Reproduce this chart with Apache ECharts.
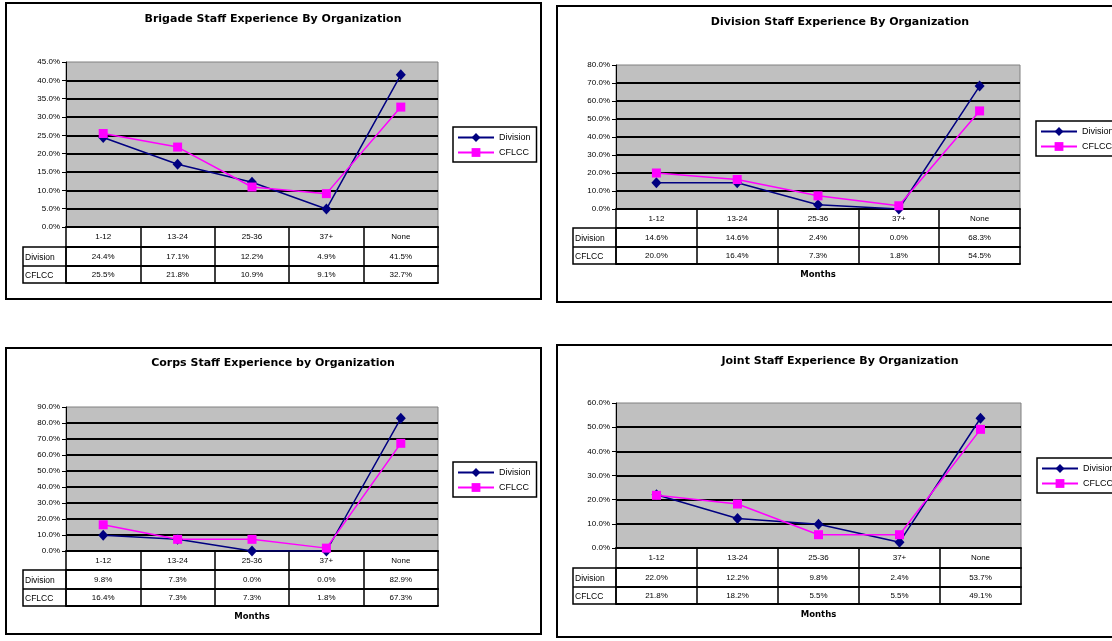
<!DOCTYPE html>
<html>
<head>
<meta charset="utf-8">
<script src="https://cdn.jsdelivr.net/npm/echarts@6/dist/echarts.min.js"></script>
<style>
html, body { margin: 0; padding: 0; background: #fff; }
#main { width: 1112px; height: 641px; }
</style>
</head>
<body>
<div id="main"></div>
<script>
// 数据
var categories = ['1-12', '13-24', '25-36', '37+', 'None'];
var seriesNames = ['Division', 'CFLCC'];
var titles = [
    'Brigade Staff Experience By Organization',
    'Division Staff Experience By Organization',
    'Corps Staff Experience by Organization',
    'Joint Staff Experience By Organization'
];
var brigadeDivision = [24.4, 17.1, 12.2, 4.9, 41.5];
var brigadeCflcc = [25.5, 21.8, 10.9, 9.1, 32.7];
var divisionDivision = [14.6, 14.6, 2.4, 0.0, 68.3];
var divisionCflcc = [20.0, 16.4, 7.3, 1.8, 54.5];
var corpsDivision = [9.8, 7.3, 0.0, 0.0, 82.9];
var corpsCflcc = [16.4, 7.3, 7.3, 1.8, 67.3];
var jointDivision = [22.0, 12.2, 9.8, 2.4, 53.7];
var jointCflcc = [21.8, 18.2, 5.5, 5.5, 49.1];
var axisMax = [45, 80, 90, 60];
var axisStep = [5, 10, 10, 10];
var xAxisName = ['', 'Months', 'Months', 'Months'];

var chartData = [
    [brigadeDivision, brigadeCflcc],
    [divisionDivision, divisionCflcc],
    [corpsDivision, corpsCflcc],
    [jointDivision, jointCflcc]
];

// 布局 (像素)
var layout = [
    { frame: [6, 3, 541, 299], plot: [66, 62, 438, 227], rows: [247, 266, 283], labelLeft: 23, legend: [453, 127], title: [273, 14] },
    { frame: [557, 6, 1125, 302], plot: [616, 65, 1020, 209], rows: [228, 247, 264], labelLeft: 573, legend: [1036, 121], title: [840, 17] },
    { frame: [6, 348, 541, 634], plot: [66, 407, 438, 551], rows: [570, 589, 606], labelLeft: 23, legend: [453, 462], title: [273, 358] },
    { frame: [557, 345, 1125, 637], plot: [616, 403, 1021, 548], rows: [568, 587, 604], labelLeft: 573, legend: [1037, 458], title: [840, 356] }
];

var FONT = 'Liberation Sans, Arial, sans-serif';
var TITLE_FONT = 'DejaVu Sans, Liberation Sans, sans-serif';
var lineColors = ['#000080', '#ff00ff'];

function pct(v) {
    return v.toFixed(1) + '%';
}

var option = {
    animation: false,
    backgroundColor: '#fff',
    textStyle: { fontFamily: FONT },
    title: [],
    legend: [],
    grid: [],
    xAxis: [],
    yAxis: [],
    series: [],
    graphic: []
};

layout.forEach(function (l, i) {
    var x0 = l.plot[0], y0 = l.plot[1], x1 = l.plot[2], y1 = l.plot[3];
    var data = chartData[i];

    option.title.push({
        text: titles[i],
        left: l.title[0],
        top: l.title[1],
        textAlign: 'center',
        padding: 0,
        textStyle: { fontSize: 11, fontWeight: 'bold', color: '#000', fontFamily: TITLE_FONT }
    });

    option.legend.push({
        data: seriesNames,
        orient: 'vertical',
        left: l.legend[0],
        top: l.legend[1],
        itemWidth: 36,
        itemHeight: 11,
        itemGap: 6,
        padding: [6, 6, 5, 4],
        borderColor: '#000',
        borderWidth: 1.5,
        backgroundColor: '#fff',
        selectedMode: false,
        textStyle: { fontSize: 9, color: '#000', fontFamily: FONT }
    });

    option.grid.push({
        left: x0,
        top: y0,
        width: x1 - x0,
        height: y1 - y0,
        show: true,
        backgroundColor: '#c0c0c0',
        borderColor: '#808080',
        borderWidth: 1,
        containLabel: false,
        outerBoundsMode: 'none'
    });

    option.yAxis.push({
        gridIndex: i,
        type: 'value',
        min: 0,
        max: axisMax[i],
        interval: axisStep[i],
        axisLine: { show: true, lineStyle: { color: '#000', width: 1 } },
        axisTick: { show: true, length: 4, lineStyle: { color: '#000' } },
        axisLabel: { formatter: pct, fontSize: 8, color: '#000', margin: 6, fontFamily: FONT },
        splitLine: { show: true, showMaxLine: false, showMinLine: false, lineStyle: { color: '#000', width: 2 } }
    });

    // 表格: 每一行用一条类目轴
    var rowTops = [y1, l.rows[0], l.rows[1]];
    var rowData = [categories, data[0].map(pct), data[1].map(pct)];
    var rowNames = ['', seriesNames[0], seriesNames[1]];
    var headerIndex = option.xAxis.length;
    for (var r = 0; r < 3; r++) {
        var h = (r < 2 ? l.rows[r] : l.rows[2]) - rowTops[r];
        option.xAxis.push({
            gridIndex: i,
            type: 'category',
            position: 'bottom',
            offset: rowTops[r] - y1,
            data: rowData[r],
            boundaryGap: true,
            axisLine: { show: true, lineStyle: { color: '#000', width: 2 } },
            axisTick: { show: true, alignWithLabel: false, inside: false, length: h, lineStyle: { color: '#000', width: 1.5 } },
            axisLabel: { interval: 0, margin: Math.round((h - 8) / 2), fontSize: 8, color: '#000', fontFamily: FONT },
            splitLine: { show: false },
            name: rowNames[r],
            nameLocation: 'start',
            nameGap: x0 - l.labelLeft - 2,
            nameMoveOverlap: false,
            nameTextStyle: { align: 'left', verticalAlign: 'top', padding: [Math.round((h - 8) / 2), 0, 0, 0], fontSize: 8.5, color: '#000', fontFamily: FONT }
        });
    }
    // 表格底线 + Months
    option.xAxis.push({
        gridIndex: i,
        type: 'category',
        position: 'bottom',
        offset: l.rows[2] - y1,
        data: categories,
        axisLine: { show: true, lineStyle: { color: '#000', width: 2 } },
        axisTick: { show: false },
        axisLabel: { show: false },
        splitLine: { show: false },
        name: xAxisName[i],
        nameLocation: 'middle',
        nameGap: 11,
        nameMoveOverlap: false,
        nameTextStyle: { fontSize: 8.5, fontWeight: 'bold', color: '#000', verticalAlign: 'middle', fontFamily: TITLE_FONT }
    });

    option.series.push({
        name: seriesNames[0],
        type: 'line',
        xAxisIndex: headerIndex,
        yAxisIndex: i,
        data: data[0],
        symbol: 'diamond',
        symbolSize: [10, 11],
        lineStyle: { color: lineColors[0], width: 1.5 },
        itemStyle: { color: lineColors[0] }
    });
    option.series.push({
        name: seriesNames[1],
        type: 'line',
        xAxisIndex: headerIndex,
        yAxisIndex: i,
        data: data[1],
        symbol: 'rect',
        symbolSize: 9,
        lineStyle: { color: lineColors[1], width: 1.5 },
        itemStyle: { color: lineColors[1] }
    });

    // 外框
    option.graphic.push({
        type: 'rect',
        shape: { x: l.frame[0], y: l.frame[1], width: l.frame[2] - l.frame[0], height: l.frame[3] - l.frame[1] },
        style: { fill: 'none', stroke: '#000', lineWidth: 2 },
        silent: true
    });
    // 表格左侧标签列
    option.graphic.push({
        type: 'rect',
        shape: { x: l.labelLeft, y: l.rows[0], width: x0 - l.labelLeft, height: l.rows[2] - l.rows[0] },
        style: { fill: 'none', stroke: '#000', lineWidth: 1.5 },
        silent: true
    });
    option.graphic.push({
        type: 'line',
        shape: { x1: l.labelLeft, y1: l.rows[1], x2: x0, y2: l.rows[1] },
        style: { stroke: '#000', lineWidth: 1.5 },
        silent: true
    });
});

var myChart = echarts.init(document.getElementById('main'));
myChart.setOption(option);
window.addEventListener('resize', function () {
    myChart.resize();
});
</script>
</body>
</html>
